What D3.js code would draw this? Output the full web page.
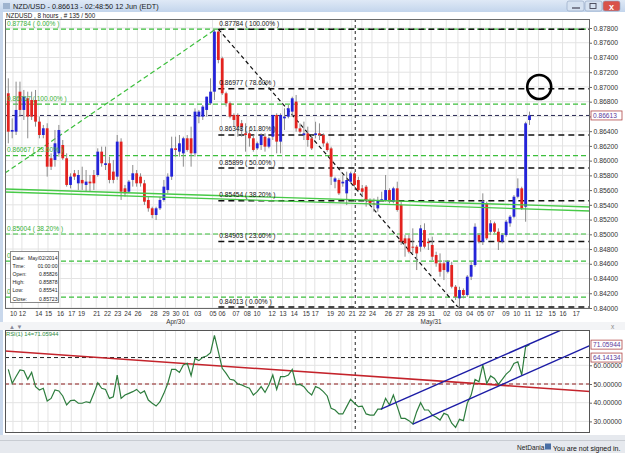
<!DOCTYPE html>
<html><head><meta charset="utf-8">
<script src="https://cdn.jsdelivr.net/npm/d3@7"></script>
<style>body{margin:0;background:#fff;overflow:hidden}svg{display:block}text{font-family:"Liberation Sans",Arial,sans-serif}</style>
</head><body><svg id="c" width="625" height="453"></svg>
<script>
// ---------- DATA ----------
const openP=[0.86914,0.86393,0.86393,0.86936,0.86688,0.86846,0.86823,0.86823,0.86529,0.86348,0.86439,0.86032,0.86009,0.86099,0.86212,0.86032,0.85670,0.85828,0.85692,0.85738,0.85670,0.85715,0.85805,0.85805,0.86122,0.85941,0.85964,0.85851,0.85783,0.86258,0.85624,0.85579,0.85738,0.85828,0.85783,0.85692,0.85466,0.85353,0.85262,0.85353,0.85466,0.85602,0.85783,0.86167,0.86122,0.86099,0.86303,0.86303,0.86099,0.86597,0.86597,0.86688,0.86778,0.86936,0.87751,0.87389,0.86914,0.86778,0.86620,0.86620,0.86507,0.86371,0.86371,0.86303,0.86167,0.86212,0.86325,0.86190,0.86325,0.86620,0.86258,0.86574,0.86597,0.86665,0.86801,0.86438,0.86347,0.86370,0.86302,0.86347,0.86370,0.86347,0.86234,0.86166,0.85714,0.85737,0.85691,0.85556,0.85714,0.85827,0.85737,0.85624,0.85646,0.85465,0.85420,0.85352,0.85465,0.85465,0.85601,0.85443,0.85624,0.85397,0.84945,0.84945,0.84832,0.84832,0.84832,0.85058,0.84900,0.84855,0.84719,0.84606,0.84606,0.84492,0.84583,0.84289,0.84131,0.84244,0.84176,0.84425,0.84583,0.84990,0.84900,0.85420,0.85035,0.85149,0.85035,0.84900,0.84990,0.85149,0.85239,0.85510,0.85624,0.85375,0.86551];
const highP=[0.87117,0.86574,0.87072,0.87072,0.86959,0.86936,0.86936,0.86959,0.86597,0.86484,0.86507,0.86099,0.86416,0.86484,0.86280,0.86099,0.85828,0.85873,0.85873,0.85918,0.85873,0.85805,0.85873,0.86167,0.86190,0.86190,0.86054,0.86009,0.86348,0.86303,0.85670,0.85738,0.85941,0.85873,0.85828,0.85738,0.85511,0.85375,0.85375,0.85511,0.85738,0.85828,0.86325,0.86325,0.86348,0.86325,0.86348,0.86461,0.86710,0.86688,0.86755,0.86868,0.87117,0.87784,0.87773,0.87411,0.86936,0.86801,0.86642,0.86642,0.86552,0.86507,0.86416,0.86348,0.86258,0.86371,0.86371,0.86325,0.86620,0.86642,0.86642,0.86710,0.86755,0.86868,0.86891,0.86506,0.86529,0.86461,0.86347,0.86528,0.86506,0.86370,0.86257,0.86189,0.85782,0.85759,0.85805,0.85850,0.85850,0.85850,0.85782,0.85669,0.85669,0.85488,0.85488,0.85510,0.85578,0.85805,0.85624,0.85646,0.85714,0.85443,0.84990,0.84990,0.85081,0.84855,0.85126,0.85149,0.84945,0.84968,0.84764,0.84741,0.84651,0.84651,0.84628,0.84312,0.84289,0.84266,0.84447,0.84628,0.85149,0.85013,0.85556,0.85443,0.85194,0.85171,0.85081,0.85013,0.85194,0.85262,0.85533,0.85759,0.85646,0.86528,0.86665];
const lowP=[0.86235,0.86303,0.86348,0.86597,0.86552,0.86303,0.86552,0.86461,0.86303,0.86303,0.85783,0.85873,0.85918,0.86054,0.86009,0.85647,0.85624,0.85738,0.85602,0.85602,0.85579,0.85579,0.85602,0.85783,0.85918,0.85873,0.85692,0.85692,0.85738,0.85466,0.85511,0.85557,0.85647,0.85647,0.85647,0.85398,0.85307,0.85217,0.85194,0.85330,0.85443,0.85557,0.85738,0.86054,0.86054,0.85918,0.86122,0.85918,0.86054,0.86507,0.86552,0.86597,0.86755,0.86823,0.87321,0.86891,0.86733,0.86574,0.86461,0.86325,0.86325,0.86122,0.86190,0.86122,0.86145,0.86145,0.86122,0.86167,0.86280,0.86099,0.86099,0.86416,0.86574,0.86597,0.86393,0.86370,0.86280,0.86189,0.86144,0.86302,0.86280,0.86189,0.86121,0.85669,0.85624,0.85533,0.85646,0.85397,0.85691,0.85646,0.85578,0.85510,0.85375,0.85397,0.85307,0.85307,0.85443,0.85443,0.85420,0.85420,0.85307,0.84855,0.84696,0.84741,0.84741,0.84515,0.84764,0.84809,0.84787,0.84651,0.84560,0.84425,0.84379,0.84470,0.84266,0.84108,0.84013,0.84131,0.84153,0.84379,0.84560,0.84877,0.84855,0.84922,0.84990,0.85013,0.84787,0.84877,0.84968,0.85103,0.85216,0.85488,0.85330,0.85171,0.86484];
const closeP=[0.86393,0.86416,0.86688,0.86688,0.86868,0.86597,0.86597,0.86529,0.86348,0.86439,0.85918,0.85918,0.86235,0.86416,0.86032,0.85670,0.85783,0.85783,0.85805,0.85692,0.85715,0.85692,0.85692,0.86122,0.85964,0.85964,0.85738,0.85738,0.86258,0.85579,0.85557,0.85715,0.85828,0.85692,0.85692,0.85443,0.85353,0.85262,0.85353,0.85466,0.85647,0.85783,0.86167,0.86145,0.86235,0.86303,0.86145,0.86099,0.86665,0.86665,0.86733,0.86868,0.86936,0.87751,0.87366,0.86914,0.86778,0.86597,0.86552,0.86461,0.86461,0.86348,0.86303,0.86145,0.86235,0.86348,0.86190,0.86303,0.86620,0.86258,0.86620,0.86597,0.86710,0.86846,0.86438,0.86393,0.86370,0.86280,0.86166,0.86370,0.86347,0.86234,0.86144,0.85782,0.85759,0.85556,0.85714,0.85737,0.85827,0.85669,0.85601,0.85578,0.85465,0.85420,0.85410,0.85465,0.85476,0.85601,0.85465,0.85624,0.85330,0.84900,0.84877,0.84764,0.84820,0.84741,0.85081,0.84832,0.84880,0.84696,0.84606,0.84492,0.84515,0.84628,0.84289,0.84153,0.84244,0.84176,0.84425,0.84583,0.85103,0.84900,0.85443,0.84945,0.85149,0.85035,0.84900,0.84990,0.85171,0.85239,0.85510,0.85624,0.85352,0.86506,0.86613];
const rsiVals=[57.8,50.3,54.0,57.5,57.1,52.5,56.2,48.6,46.8,47.7,40.9,42.3,46.8,46.3,43.6,38.8,41.1,41.4,39.7,39.7,40.5,40.0,45.0,50.7,47.7,47.1,42.3,43.2,54.8,42.3,44.1,45.0,45.9,47.1,45.0,46.3,41.4,39.7,38.2,40.5,45.0,50.3,57.8,57.8,56.2,60.2,61.1,54.5,63.7,62.5,64.3,65.0,66.8,76.0,67.3,58.4,55.7,52.5,52.1,50.0,49.5,48.5,47.7,44.1,45.9,48.6,45.5,49.5,54.8,47.1,53.9,53.9,54.8,57.8,49.5,49.8,48.6,45.9,44.1,48.6,47.7,45.9,43.6,37.0,36.1,34.0,34.0,37.9,41.8,39.7,37.9,38.2,34.0,33.4,33.4,36.6,36.6,42.3,38.8,44.1,37.9,31.6,31.6,30.4,28.6,35.2,40.0,36.1,36.1,33.4,32.2,30.7,34.3,33.4,29.0,26.8,31.1,30.4,39.7,44.1,52.5,51.2,60.2,50.3,54.3,53.0,49.8,52.5,55.3,57.1,61.0,61.9,54.8,70.0,71.06];

const tickLabels=["10","12","14","15","16","17","19","21","22","23","24","26","28","29","30","01","03","05","06","07","08","10","12","13","14","15","17","19","20","21","22","24","26","27","28","29","31","02","03","04","05","07","09","10","11","12","15","16","17"];
const tickBars=[1.2,3.5,7.7,10.2,13.3,16.2,18.7,22.6,25.4,28.0,30.6,33.2,37.3,40.4,43.0,45.5,48.6,52.5,54.8,58.4,61.3,63.8,67.7,70.5,73.4,76.5,78.8,82.7,85.5,88.3,90.9,93.5,97.6,100.4,103.3,106.1,108.7,112.6,115.6,118.5,121.3,123.9,127.8,130.6,133.4,136.3,139.7,142.5,145.9];
const monthLabels=["Apr/30","May/31"];
const monthBars=[43.0,108.7];
const priceTicks=[0.840,0.842,0.844,0.846,0.848,0.850,0.852,0.854,0.856,0.858,0.860,0.862,0.864,0.866,0.868,0.870,0.872,0.874,0.876,0.878];
const rsiTicks=[30,40,50,60];

const fibBlackLevels=[0.87784,0.86977,0.86348,0.85899,0.85454,0.84903,0.84013];
const fibBlackPct=["100.00%","78.60%","61.80%","50.00%","38.20%","23.60%","0.00%"];
const fibBlackStartBar=54;
const fibBlackDiag=[[54,0.87784],[115.6,0.84013]];
const fibGreenLevels=[0.87784,0.86767,0.86067,0.85004];
const fibGreenText=["0.87784 ( 0.00% )","0.86767 ( 100.00% )","0.86067 ( 23.60% )","0.85004 ( 38.20% )"];
const fibGreenHidden=[0.84637,0.84147];
const greenDiag=[[-0.85,0.85832],[53.3,0.87784]];
const greenTrend1=[[-0.85,0.85615],[149.9,0.85371]];
const greenTrend2=[[-0.85,0.85574],[149.9,0.85316]];
const lastPrice=0.86613;
const crossBar=89.2;
const circleMark=[136.5,0.86999];

const rsiRedLine=[[-0.85,67.6],[149.9,46.0]];
const rsiBlueUpper=[[95.8,36.6],[150,86.0]];
const rsiBlueLower=[[104,28.6],[149.9,70.9]];
const rsiLast=71.05944, rsiRef=64.14134, rsiMid=50;

const infoRows=[["Date:","May/02/2014"],["Time:","01:00:00"],["Open:","0.85826"],["High:","0.85878"],["Low:","0.85541"],["Close:","0.85723"]];

// ---------- LAYOUT ----------
const svg=d3.select("#c");
const L=5,R=590,mTop=19,mBot=309,rTop=330,rBot=433;
const x=d3.scaleLinear().domain([0,134]).range([8.3,529.5]);
const y=d3.scaleLinear().domain([0.840,0.878]).range([308,28]);
const yr=d3.scaleLinear().domain([30,60]).range([421.4,365.3]);
const n=openP.length;
const bars=d3.range(n).map(i=>({i,o:openP[i],h:highP[i],l:lowP[i],c:closeP[i],r:rsiVals[i]}));

// backgrounds
svg.append("rect").attr("width",625).attr("height",453).attr("fill","#ffffff");
const defs=svg.append("defs");
const tg=defs.append("linearGradient").attr("id","tb").attr("x1",0).attr("x2",0).attr("y1",0).attr("y2",1);
tg.append("stop").attr("offset",0).attr("stop-color","#dfe9f6");
tg.append("stop").attr("offset",1).attr("stop-color","#c3d5ec");
svg.append("rect").attr("width",625).attr("height",12).attr("fill","url(#tb)");
svg.append("rect").attr("x",0).attr("y",12).attr("width",3).attr("height",428).attr("fill","#c9d8ec");
svg.append("rect").attr("x",0).attr("y",435).attr("width",625).attr("height",18).attr("fill","#e6e9ee");
svg.append("line").attr("x1",0).attr("x2",625).attr("y1",440.5).attr("y2",440.5).attr("stroke","#c8ccd2");
svg.append("rect").attr("x",0).attr("y",322).attr("width",625).attr("height",8).attr("fill","#f3f4f6");

// title
svg.append("rect").attr("x",3).attr("y",3).attr("width",7).attr("height",6).attr("fill","#9fb4cf");
svg.append("text").attr("x",13).attr("y",9).attr("font-size",7.3).attr("fill","#1a1a1a").text("NZD/USD - 0.86613 - 02:48:50  12 Jun (EDT)");
[[567,"#d6e2f1"],[585,"#d6e2f1"],[603,"#d9534a"]].forEach(([bx,col])=>{
  svg.append("rect").attr("x",bx).attr("y",1).attr("width",17).attr("height",10).attr("rx",2).attr("fill",col).attr("stroke","#8ea3bf").attr("stroke-width",0.6);
});
svg.append("line").attr("x1",572).attr("x2",580).attr("y1",8).attr("y2",8).attr("stroke","#445").attr("stroke-width",1.2);
svg.append("rect").attr("x",590).attr("y",3.5).attr("width",6).attr("height",5).attr("fill","none").attr("stroke","#445").attr("stroke-width",0.9);
svg.append("text").attr("x",611.5).attr("y",9.5).attr("text-anchor","middle").attr("font-size",9).attr("font-weight","bold").attr("fill","#fff").text("x");
svg.append("text").attr("x",6).attr("y",17.5).attr("font-size",6.3).attr("fill","#222").text("NZDUSD , 8 hours , # 135 / 500");

// clip paths
defs.append("clipPath").attr("id","cm").append("rect").attr("x",L).attr("y",mTop).attr("width",R-L).attr("height",mBot-mTop);
defs.append("clipPath").attr("id","cr").append("rect").attr("x",L).attr("y",rTop).attr("width",R-L).attr("height",rBot-rTop);
defs.append("clipPath").attr("id","ch").append("rect").attr("x",0).attr("y",mTop).attr("width",10.5).attr("height",mBot-mTop);

// ---------- MAIN PANEL ----------
const gm=svg.append("g").attr("clip-path","url(#cm)");
gm.selectAll(".vg").data(tickBars).join("line").attr("x1",d=>x(d)).attr("x2",d=>x(d)).attr("y1",mTop).attr("y2",mBot).attr("stroke","#e3e3e3").attr("stroke-width",1);
gm.selectAll(".hg").data(priceTicks).join("line").attr("x1",L).attr("x2",R).attr("y1",d=>y(d)).attr("y2",d=>y(d)).attr("stroke","#e3e3e3");

const line=d3.line().x(d=>x(d[0])).y(d=>y(d[1]));
gm.selectAll(".gf").data(fibGreenLevels.concat(fibGreenHidden)).join("line").attr("x1",L).attr("x2",R).attr("y1",d=>y(d)).attr("y2",d=>y(d))
  .attr("stroke","#3cbf3c").attr("stroke-width",1.2).attr("stroke-dasharray","5,3");
gm.append("path").attr("d",line(greenDiag)).attr("fill","none").attr("stroke","#3cbf3c").attr("stroke-width",1.2).attr("stroke-dasharray","5,3");
gm.selectAll(".bf").data(fibBlackLevels).join("line").attr("x1",x(fibBlackStartBar)).attr("x2",R).attr("y1",d=>y(d)).attr("y2",d=>y(d))
  .attr("stroke","#111").attr("stroke-width",1.5).attr("stroke-dasharray","6,4");
gm.append("path").attr("d",line(fibBlackDiag)).attr("fill","none").attr("stroke","#111").attr("stroke-width",1.2).attr("stroke-dasharray","4,3");
gm.append("line").attr("x1",L).attr("x2",R).attr("y1",y(lastPrice)).attr("y2",y(lastPrice)).attr("stroke","#2a2a55").attr("stroke-width",1).attr("stroke-dasharray","4,3");
gm.append("line").attr("x1",x(crossBar)).attr("x2",x(crossBar)).attr("y1",mTop).attr("y2",mBot).attr("stroke","#222").attr("stroke-width",1).attr("stroke-dasharray","3,3");

// candles
const cg=gm.append("g");
cg.selectAll(".wk").data(bars).join("line").attr("x1",d=>x(d.i)).attr("x2",d=>x(d.i)).attr("y1",d=>y(d.h)).attr("y2",d=>y(d.l)).attr("stroke","#8c8c8c").attr("stroke-width",1);
cg.selectAll(".bd").data(bars).join("rect").attr("x",d=>x(d.i)-1.4).attr("width",2.8)
  .attr("y",d=>y(Math.max(d.o,d.c))).attr("height",d=>Math.max(1,Math.abs(y(d.o)-y(d.c))))
  .attr("fill",d=>d.c>=d.o?"#2424d8":"#e3231f");

[greenTrend1,greenTrend2].forEach(t=>gm.append("path").attr("d",line(t)).attr("fill","none").attr("stroke","#47c947").attr("stroke-width",1.4));

gm.append("circle").attr("cx",x(circleMark[0])).attr("cy",y(circleMark[1])).attr("r",12).attr("fill","none").attr("stroke","#000").attr("stroke-width",2.6);

gm.selectAll(".bfl").data(fibBlackLevels).join("text").attr("x",x(fibBlackStartBar)+1).attr("y",d=>y(d)-3.5)
  .attr("font-size",6.6).attr("fill","#111").text((d,i)=>d.toFixed(5)+" ( "+fibBlackPct[i]+" )");
gm.selectAll(".gfl").data(fibGreenLevels).join("text").attr("x",7).attr("y",d=>y(d)-3.5)
  .attr("font-size",6.6).attr("fill","#38b038").text((d,i)=>fibGreenText[i]);
svg.append("g").attr("clip-path","url(#ch)").selectAll("text").data(fibGreenHidden).join("text").attr("x",7).attr("y",d=>y(d)-3.5)
  .attr("font-size",6.6).attr("fill","#38b038").text(d=>String(d).slice(0,1));

// info box
const ib=svg.append("g");
ib.append("rect").attr("x",10.5).attr("y",251.5).attr("width",48).attr("height",51).attr("fill","#fff").attr("stroke","#8a8a8a");
ib.selectAll(".il").data(infoRows).join("text").attr("x",12.5).attr("y",(d,i)=>260+i*8.1).attr("font-size",5.1).attr("fill","#222").text(d=>d[0]);
ib.selectAll(".iv").data(infoRows).join("text").attr("x",57.5).attr("y",(d,i)=>260+i*8.1).attr("text-anchor","end").attr("font-size",5.1).attr("fill","#222").text(d=>d[1]);

svg.append("rect").attr("x",L+0.5).attr("y",mTop+0.5).attr("width",R-L-1).attr("height",mBot-mTop-1).attr("fill","none").attr("stroke","#6a6a6a");

// axes
const ay=svg.append("g").attr("transform",`translate(${R},0)`).call(d3.axisRight(y).tickValues(priceTicks).tickFormat(d3.format(".5f")).tickSize(2).tickPadding(1.5));
ay.select(".domain").remove();
ay.selectAll("text").attr("font-size",6.8).attr("fill","#333").attr("font-family","Liberation Sans, Arial");
ay.selectAll("line").attr("stroke","#666");
const ax=svg.append("g").attr("transform",`translate(0,${mBot})`).call(d3.axisBottom(x).tickValues(tickBars).tickFormat((d,i)=>tickLabels[i]).tickSize(0).tickPadding(2.5));
ax.select(".domain").remove();
ax.selectAll("text").attr("font-size",6.4).attr("fill","#333").attr("font-family","Liberation Sans, Arial");
svg.selectAll(".ml").data(monthLabels).join("text").attr("x",(d,i)=>x(monthBars[i])).attr("y",323.5).attr("text-anchor","middle").attr("font-size",6.4).attr("fill","#333").text(d=>d);

function valBox(yy,label){
  svg.append("rect").attr("x",591).attr("y",yy-4.5).attr("width",31).attr("height",9).attr("fill","#fff").attr("stroke","#b04848").attr("stroke-width",0.8);
  svg.append("text").attr("x",593).attr("y",yy+2.5).attr("font-size",6.6).attr("fill","#5a3a9a").text(label);
}
valBox(y(lastPrice),d3.format(".5f")(lastPrice));

// ---------- RSI PANEL ----------
svg.append("text").attr("x",9).attr("y",329).attr("font-size",6).attr("fill","#889").text("\u25B2 \u25BC");
svg.append("text").attr("x",611).attr("y",329).attr("font-size",6.5).attr("fill","#888").text("x");
const gr=svg.append("g").attr("clip-path","url(#cr)");
gr.selectAll(".vg").data(tickBars).join("line").attr("x1",d=>x(d)).attr("x2",d=>x(d)).attr("y1",rTop).attr("y2",rBot).attr("stroke","#e3e3e3");
gr.selectAll(".hg").data(rsiTicks).join("line").attr("x1",L).attr("x2",R).attr("y1",d=>yr(d)).attr("y2",d=>yr(d)).attr("stroke","#e3e3e3");
gr.append("line").attr("x1",L).attr("x2",R).attr("y1",yr(rsiRef)).attr("y2",yr(rsiRef)).attr("stroke","#222").attr("stroke-dasharray","4,3");
gr.append("line").attr("x1",L).attr("x2",R).attr("y1",yr(rsiMid)).attr("y2",yr(rsiMid)).attr("stroke","#8e1c1c").attr("stroke-dasharray","4,3");
gr.append("line").attr("x1",x(crossBar)).attr("x2",x(crossBar)).attr("y1",rTop).attr("y2",rBot).attr("stroke","#222").attr("stroke-dasharray","3,3");
const rl=d3.line().x(d=>x(d[0])).y(d=>yr(d[1]));
gr.append("path").attr("d",rl(rsiRedLine)).attr("fill","none").attr("stroke","#c4232b").attr("stroke-width",1.5);
gr.append("path").attr("d",d3.line().x(d=>x(d.i)).y(d=>yr(d.r))(bars)).attr("fill","none").attr("stroke","#2e7d3e").attr("stroke-width",1.2);
[rsiBlueUpper,rsiBlueLower].forEach(t=>gr.append("path").attr("d",rl(t)).attr("fill","none").attr("stroke","#1c1ca6").attr("stroke-width",1.4));
svg.append("text").attr("x",6).attr("y",336).attr("font-size",5.8).attr("fill","#2e8b3e").text("RSI(1) 14="+rsiLast.toFixed(5));
svg.append("rect").attr("x",L+0.5).attr("y",rTop+0.5).attr("width",R-L-1).attr("height",rBot-rTop-1).attr("fill","none").attr("stroke","#555");
const ar=svg.append("g").attr("transform",`translate(${R},0)`).call(d3.axisRight(yr).tickValues(rsiTicks).tickFormat(d3.format(".5f")).tickSize(2).tickPadding(1.5));
ar.select(".domain").remove();
ar.selectAll("text").attr("font-size",6.8).attr("fill","#333").attr("font-family","Liberation Sans, Arial");
ar.selectAll("line").attr("stroke","#666");
valBox(yr(rsiLast),rsiLast.toFixed(5));
valBox(yr(rsiRef),rsiRef.toFixed(5));

// status bar
svg.append("text").attr("x",517).attr("y",450).attr("font-size",6.6).attr("fill","#222").text("NetDania");
svg.append("rect").attr("x",545).attr("y",443.5).attr("width",6).attr("height",6).attr("fill","#4a6fa5");
svg.append("text").attr("x",553).attr("y",450.5).attr("font-size",7).attr("fill","#111").text("You are not signed in.");
</script></body></html>
